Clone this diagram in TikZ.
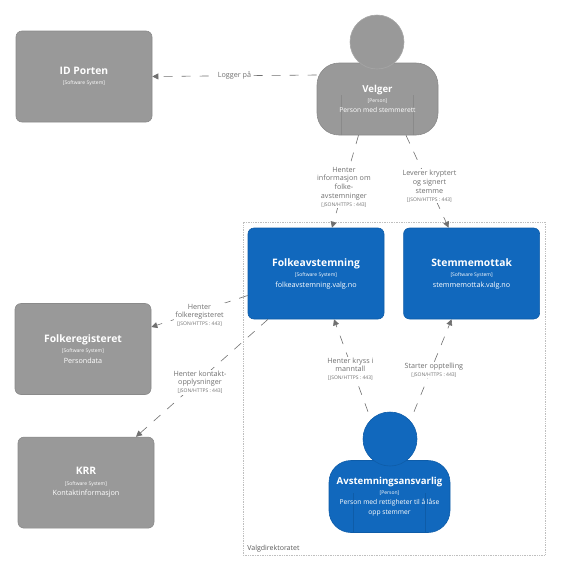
\documentclass[tikz,border=0pt]{standalone}
\usepackage{fontspec}
\setmainfont{Open Sans}
\usepackage{xcolor}
\usetikzlibrary{positioning,arrows.meta,calc}
\definecolor{ext}{HTML}{999999}
\definecolor{extline}{HTML}{8A8A8A}
\definecolor{sys}{HTML}{1168BD}
\definecolor{sysline}{HTML}{0E5CA8}
\definecolor{rel}{HTML}{707070}
\newcommand{\ttl}[1]{{\fontsize{10.3}{12}\selectfont\bfseries #1}}
\newcommand{\ptl}[1]{{\fontsize{9.6}{12}\selectfont\bfseries #1}}
\newcommand{\tagline}[1]{{\fontsize{5}{6}\selectfont #1}}
\newcommand{\desc}[1]{{\fontsize{7.2}{9}\selectfont #1}}
\newcommand{\pdesc}[1]{{\fontsize{6.7}{9}\selectfont #1}}
\newcommand{\reltech}{{\fontsize{5}{6}\selectfont [JSON/HTTPS : 443]}}

\begin{document}
\begin{tikzpicture}[
  x=1pt, y=-1pt,
  sysbox/.style={draw, rounded corners=6pt, minimum width=136pt, minimum height=91pt, align=center, text=white, inner sep=1pt, line width=.6pt},
  persbody/.style={draw, rounded corners=22pt, minimum width=121pt, minimum height=72pt, inner sep=1pt, line width=.6pt},
  perstext/.style={align=center, text=white, inner sep=0pt},
  pershead/.style={draw, circle, minimum size=54pt, inner sep=0pt, line width=.6pt},
  dep/.style={draw=rel, dashed, dash pattern=on 9pt off 9pt, line width=.6pt, -{Triangle[length=6pt,width=6pt]}},
  deplabel/.style={fill=white, text=rel, align=center, inner sep=1pt, font=\fontsize{7.2}{8.8}\selectfont},
  torso/.style={line width=.35pt}]
\useasboundingbox (0,0) rectangle (570,582);
% boundary
\node[draw=gray!50, dash pattern=on .7pt off 1pt, line width=.6pt, minimum width=302pt, minimum height=333pt, inner sep=0pt] (valg) at (394,388.5) {};
\node[anchor=south west, text=black!65, inner sep=0pt, font=\fontsize{7}{8}\selectfont] (valgname) at ([shift={(4.5pt,3pt)}]valg.south west) {Valgdirektoratet};
% external systems
\node[sysbox, fill=ext, draw=extline] (idporten) at (84,76.5) {\ttl{ID Porten}\\[-1.5pt]\tagline{[Software System]}};
\node[sysbox, fill=ext, draw=extline] (folkereg) at (83,349) {\ttl{Folkeregisteret}\\[-1.5pt]\tagline{[Software System]}\\[-1.5pt]\desc{Persondata}};
\node[sysbox, fill=ext, draw=extline, below=42pt of folkereg, xshift=3pt] (krr) {\ttl{KRR}\\[-1.5pt]\tagline{[Software System]}\\[-1.5pt]\desc{Kontaktinformasjon}};
% own systems
\node[sysbox, fill=sys, draw=sysline] (folke) at (316,273.5) {\ttl{Folkeavstemning}\\[-1.5pt]\tagline{[Software System]}\\[-1.5pt]\desc{folkeavstemning.valg.no}};
\node[sysbox, fill=sys, draw=sysline, right=19pt of folke] (mottak) {\ttl{Stemmemottak}\\[-1.5pt]\tagline{[Software System]}\\[-1.5pt]\desc{stemmemottak.valg.no}};
% persons
\node[persbody, fill=ext, draw=extline] (velger) at (377.5,99) {};
\node[pershead, fill=ext, draw=gray!70] (velgerhead) at (377,42) {};
\node[persbody, fill=sys, draw=sysline] (ansvar) at (389.5,496.5) {};
\node[pershead, fill=sys, draw=sysline] (ansvarhead) at (390,439) {};
\foreach \p/\c in {velger/extline,ansvar/sysline}
  \foreach \d in {-36,36} \draw[torso, draw=\c] ([xshift=\d pt]\p.south) -- ++(0,-40);
\node[perstext] (velgertext) at (velger) {\ptl{Velger}\\[-2pt]\tagline{[Person]}\\[-2pt]\pdesc{Person med stemmerett}};
\node[perstext] (ansvartext) at (ansvar) {\ptl{Avstemningsansvarlig}\\[-2pt]\tagline{[Person]}\\[-2pt]\pdesc{Person med rettigheter til å låse}\\[-2.5pt]\pdesc{opp stemmer}};
% connectors
\draw[dep] ([yshift=24pt]velger.west) -- node[deplabel] (logger) {Logger på} (idporten.east);
\draw[dep] ([xshift=-19pt]velger.south) -- node[deplabel, pos=.55, yshift=-1pt] (hentinfo) {Henter\\informasjon om\\folke-\\avstemninger\\[-1pt]\reltech} ([xshift=16pt]folke.north);
\draw[dep] ([xshift=28.5pt]velger.south) -- node[deplabel, pos=.55] (lever) {Leverer kryptert\\og signert\\stemme\\[-1pt]\reltech} ([xshift=-23pt]mottak.north);
\draw[dep] ([xshift=-22pt]ansvarhead.north) -- node[deplabel, pos=.46, xshift=-2pt] (hentkryss) {Henter kryss i\\manntall\\[-1pt]\reltech} ([xshift=18pt]folke.south);
\draw[dep] ([xshift=24pt]ansvarhead.north) -- node[deplabel, pos=.45, xshift=3pt] (starter) {Starter opptelling\\[-1pt]\reltech} ([xshift=-20pt]mottak.south);
\draw[dep] ([yshift=-22pt]folke.west) -- node[deplabel, yshift=-4pt] (hentreg) {Henter\\folkeregisteret\\[-1pt]\reltech} ([yshift=22pt]folkereg.east);
\draw[dep] ([xshift=-48pt]folke.south) -- node[deplabel, xshift=-2pt, yshift=-4pt] (hentkrr) {Henter kontakt-\\opplysninger\\[-1pt]\reltech} ([xshift=50pt]krr.north);
\end{tikzpicture}
\end{document}
